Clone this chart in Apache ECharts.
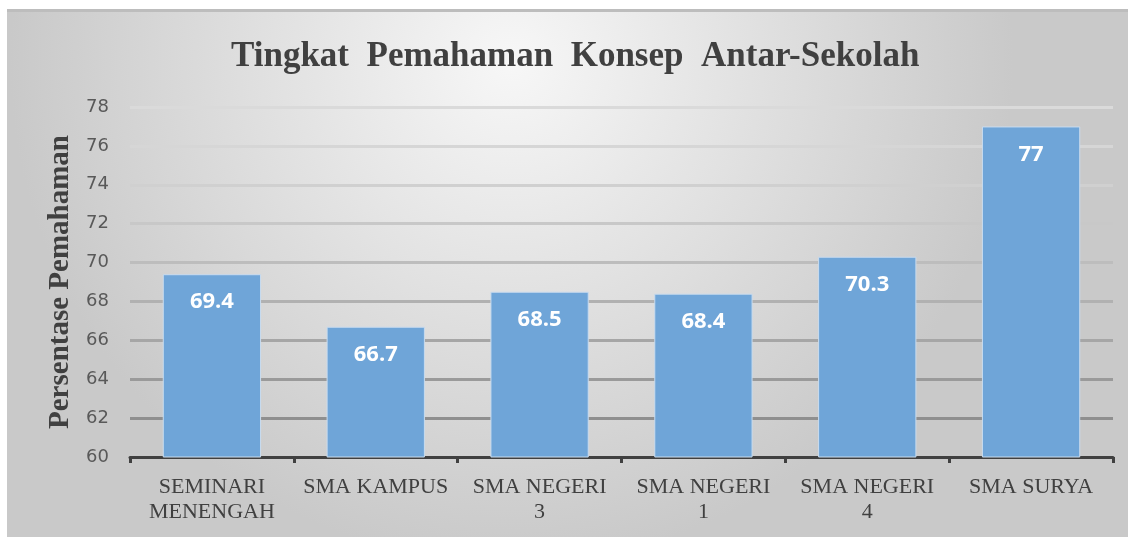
<!DOCTYPE html>
<html>
<head>
<meta charset="utf-8">
<script src="https://cdn.jsdelivr.net/npm/echarts@6/dist/echarts.min.js"></script>
<style>
html,body{margin:0;padding:0;background:#fff;}
#chart{width:1128px;height:537px;}
</style>
</head>
<body>
<div id="chart"></div>
<script>
// data
const schools = ['SEMINARI\nMENENGAH', 'SMA KAMPUS', 'SMA NEGERI\n3', 'SMA NEGERI\n1', 'SMA NEGERI\n4', 'SMA SURYA'];
const pemahaman = [69.4, 66.7, 68.5, 68.4, 70.3, 77];
const yMin = 60, yMax = 78, yStep = 2;

const myChart = echarts.init(document.getElementById('chart'));
const option = {
	animation: false,
	graphic: [
		{
			type: 'rect', z: -10,
			shape: {x: 7, y: 9, width: 1121, height: 528},
			style: {
				fill: {
					type: 'radial', x: 0.45, y: 0.1, r: 0.95,
					colorStops: [{offset: 0, color: '#f7f7f7'}, {offset: 1, color: '#c9c9c9'}]
				}
			}
		},
		{
			type: 'rect', z: -9,
			shape: {x: 7, y: 9, width: 1121, height: 3},
			style: {fill: '#bdbdbd'}
		}
	],
	title: {
		text: 'Tingkat  Pemahaman  Konsep  Antar-Sekolah',
		left: 226, top: 34,
		textStyle: {fontFamily: 'Liberation Serif', fontWeight: 'bold', fontSize: 35, color: '#404040'}
	},
	grid: {left: 130, right: 15, top: 107, bottom: 80},
	xAxis: {
		type: 'category',
		data: schools,
		axisLine: {lineStyle: {color: '#404040', width: 3}},
		axisTick: {show: true, length: 6, lineStyle: {color: '#404040', width: 3}},
		axisLabel: {
			interval: 0, margin: 18, lineHeight: 25,
			fontFamily: 'Liberation Serif', fontSize: 22, color: '#404040'
		}
	},
	yAxis: {
		type: 'value',
		min: yMin, max: yMax, interval: yStep,
		name: 'Persentase Pemahaman',
		nameLocation: 'middle', nameGap: 52,
		nameTextStyle: {fontFamily: 'Liberation Serif', fontWeight: 'bold', fontSize: 29, color: '#404040'},
		axisLine: {show: false},
		axisTick: {show: false},
		axisLabel: {margin: 21, fontFamily: 'DejaVu Sans', fontSize: 18, color: '#595959'},
		splitLine: {
			lineStyle: {
				width: 3,
				color: ['#404040', '#8f8f8f', '#9a9a9a', '#a6a6a6', '#b1b1b1', '#bdbdbd', '#c8c8c8', '#d0d0d0', '#d6d6d6', '#dadada']
			}
		}
	},
	series: [{
		type: 'bar',
		data: pemahaman,
		barWidth: '60%',
		itemStyle: {color: '#6fa5d8', borderColor: '#c9dcef', borderWidth: 1},
		label: {
			show: true, position: 'insideTop', distance: 17,
			fontFamily: 'Open Sans', fontWeight: 'bold', fontSize: 22, color: '#ffffff'
		}
	}]
};
myChart.setOption(option);
</script>
</body>
</html>
